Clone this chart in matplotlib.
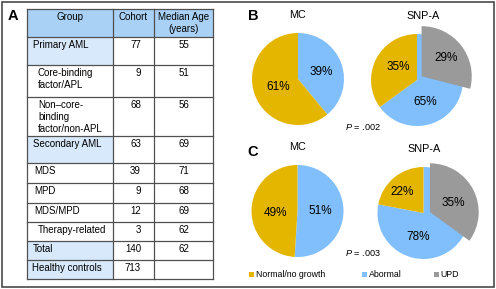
import matplotlib
matplotlib.use("Agg")
import matplotlib.pyplot as plt
from matplotlib.patches import Rectangle

plt.rcParams['font.family'] = ['Liberation Sans', 'DejaVu Sans']
plt.rcParams['mathtext.fontset'] = 'custom'
plt.rcParams['mathtext.it'] = 'Liberation Sans:italic'
plt.rcParams['mathtext.rm'] = 'Liberation Sans'

# ---------------- data ----------------
table_header = ["Group", "Cohort", "Median Age\n(years)"]
groups = ["Primary AML", "Core-binding\nfactor/APL", "Non–core-\nbinding\nfactor/non-APL",
          "Secondary AML", "MDS", "MPD", "MDS/MPD", "Therapy-related", "Total", "Healthy controls"]
cohort = ["77", "9", "68", "63", "39", "9", "12", "3", "140", "713"]
median_age = ["55", "51", "56", "69", "71", "68", "69", "62", "62", ""]

categories = ["Normal/no growth", "Abormal", "UPD"]
# panel B
b_mc = {"Abormal": 39, "Normal/no growth": 61}
b_snp = {"Abormal": 65, "Normal/no growth": 35}
b_upd = 29
# panel C
c_mc = {"Abormal": 51, "Normal/no growth": 49}
c_snp = {"Abormal": 78, "Normal/no growth": 22}
c_upd = 35
p_values = [".002", ".003"]

# ---------------- style / layout ----------------
colors = {"Normal/no growth": "#e4b600", "Abormal": "#80bffc", "UPD": "#9a9a9a"}
hdr_fill = "#a9d1f5"
light_fill = "#d8e9fb"
line_c = "#505050"

W, H = 496, 289
fig = plt.figure(figsize=(W / 100, H / 100), dpi=100)
ov = fig.add_axes([0, 0, 1, 1])
ov.set_xlim(0, W)
ov.set_ylim(H, 0)
ov.axis('off')

# outer frame
ov.add_patch(Rectangle((1.5, 1.5), W - 4, H - 4, fill=False, ec="#3a3a3a", lw=1.1))

# panel letters
for lbl, (x, y) in zip("ABC", [(13, 16), (253, 16), (253, 152)]):
    ov.text(x, y, lbl, fontsize=10.5, fontweight='bold', ha='center', va='center')

# ---------------- table ----------------
col_x = [27, 113, 154, 213]
row_y = [9, 37, 65, 97, 136, 163, 183, 203, 222, 241, 260, 279]
light_rows = {0, 3, 8, 9}
indent = [33, 38, 38, 33, 34.5, 34.5, 34.5, 38, 32.5, 32.5]
fs = 7

ov.add_patch(Rectangle((col_x[0], row_y[0]), col_x[-1] - col_x[0], row_y[1] - row_y[0],
                       fc=hdr_fill, ec='none'))
for i in light_rows:
    ov.add_patch(Rectangle((col_x[0], row_y[i + 1]), col_x[1] - col_x[0],
                           row_y[i + 2] - row_y[i + 1], fc=light_fill, ec='none'))
for y in row_y:
    ov.plot([col_x[0], col_x[-1]], [y, y], color=line_c, lw=0.9)
for x in col_x:
    ov.plot([x, x], [row_y[0], row_y[-1]], color=line_c, lw=0.9)

hdr_x = [(col_x[0] + col_x[1]) / 2, (col_x[1] + col_x[2]) / 2, (col_x[2] + col_x[3]) / 2]
for t, x in zip(table_header, hdr_x):
    ov.text(x, row_y[0] + 3, t, fontsize=fs, ha='center', va='top', linespacing=1.2)

for i, (g, c, m) in enumerate(zip(groups, cohort, median_age)):
    top = row_y[i + 1]
    ov.text(indent[i], top + 3.3, g, fontsize=fs, ha='left', va='top', linespacing=1.2)
    ov.text(141, top + 3.3, c, fontsize=fs, ha='right', va='top')
    ov.text(184, top + 3.3, m, fontsize=fs, ha='center', va='top')

# ---------------- pies ----------------
R = 46.0
L = 1.45


def pie_axes(cx, cy):
    s = 2 * L * R
    ax = fig.add_axes([(cx - s / 2) / W, (H - cy - s / 2) / H, s / W, s / H])
    return ax


def draw_pie(cx, cy, vals, title, label_pos, title_x=None, upd=None, upd_geom=None, upd_label=None):
    ax = pie_axes(cx, cy)
    keys = ["Abormal", "Normal/no growth"]
    ax.pie([vals[k] for k in keys], colors=[colors[k] for k in keys], startangle=90,
           counterclock=False, wedgeprops=dict(linewidth=0))
    for k in keys:
        ax.text(*label_pos[k], f"{vals[k]}%", fontsize=8.5, ha='center', va='center')
    if upd is not None:
        (dx, dy, rr) = upd_geom
        wedges, _ = ax.pie([upd, 100 - upd], colors=[colors["UPD"], 'none'], startangle=90,
                           counterclock=False, center=(dx, dy), radius=rr,
                           wedgeprops=dict(linewidth=0))
        wedges[1].set_visible(False)
        ax.text(*upd_label, f"{upd}%", fontsize=8.5, ha='center', va='center')
    ax.set_xlim(-L, L)
    ax.set_ylim(-L, L)
    ax.set_aspect('auto')
    ax.axis('off')
    tx = cx if title_x is None else title_x
    ov.text(tx, cy - 64, title, fontsize=7.8, ha='center', va='center')


draw_pie(298, 79, b_mc, "MC",
         {"Abormal": (0.51, 0.16), "Normal/no growth": (-0.43, -0.18)})
draw_pie(417, 80, b_snp, "SNP-A",
         {"Abormal": (0.17, -0.48), "Normal/no growth": (-0.41, 0.29)}, title_x=423,
         upd=b_upd, upd_geom=(0.1, 0.08, 1.09), upd_label=(0.63, 0.47))
draw_pie(297.5, 211, c_mc, "MC",
         {"Abormal": (0.49, 0.0), "Normal/no growth": (-0.49, -0.04)})
draw_pie(423.5, 213, c_snp, "SNP-A",
         {"Abormal": (-0.12, -0.52), "Normal/no growth": (-0.47, 0.46)}, title_x=424,
         upd=c_upd, upd_geom=(0.14, 0.02, 1.06), upd_label=(0.64, 0.22))

# P values
for p, y in zip(p_values, [127, 253]):
    ov.text(345, y, r"$P$ = " + p, fontsize=6.6, ha='left', va='center')

# legend
leg_x = [249, 362, 434]
for cat, x in zip(categories, leg_x):
    ov.add_patch(Rectangle((x, 272), 4.5, 4.5, fc=colors[cat], ec='none'))
    ov.text(x + 6.5, 274.5, cat, fontsize=6.3, ha='left', va='center')

fig.savefig("out.png", dpi=100)
